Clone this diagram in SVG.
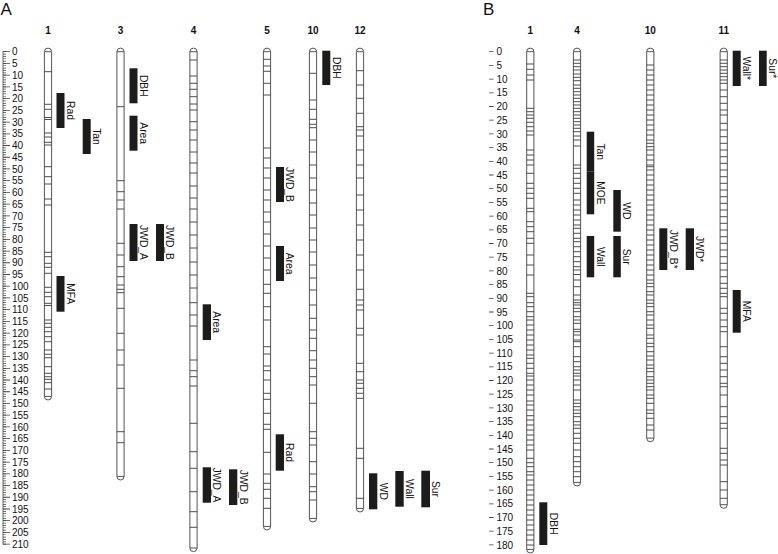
<svg xmlns="http://www.w3.org/2000/svg" width="778" height="554" viewBox="0 0 778 554">
<style>
.bg{fill:#fff}
.chr{fill:#fff;stroke:#555;stroke-width:1}
.tk{fill:none;stroke:#3a3a3a;stroke-width:0.9}
.q{fill:#1c1c1c}
.ql{font-family:"Liberation Sans",Arial,sans-serif;font-size:10.3px;fill:#111;text-anchor:middle}
.cl{font-family:"Liberation Sans",Arial,sans-serif;font-size:10px;font-weight:bold;fill:#111;text-anchor:middle}
.al{font-family:"Liberation Sans",Arial,sans-serif;font-size:10px;fill:#111}
.pl{font-family:"Liberation Sans",Arial,sans-serif;font-size:17px;fill:#111}
.ax{stroke:#444;fill:none}
</style>
<rect class="bg" x="0" y="0" width="778" height="554"/>

<!-- Panel labels -->
<text class="pl" x="0.5" y="15">A</text>
<text class="pl" x="483" y="15">B</text>

<!-- Axis A -->
<g id="axisA">
<line class="ax" x1="3" y1="51.3" x2="3" y2="544.6" stroke-width="0.8"/>
<line class="ax" x1="4.5" y1="51.35" x2="4.5" y2="545" stroke-width="3" stroke-dasharray="0.7 1.645"/>
<line class="ax" x1="6.5" y1="51.3" x2="6.5" y2="545" stroke-width="7" stroke-dasharray="0.8 10.925"/>
<g class="al">
<text x="12" y="55.3">0</text><text x="12" y="67">5</text><text x="12" y="78.8">10</text><text x="12" y="90.5">15</text><text x="12" y="102.2">20</text><text x="12" y="113.9">25</text><text x="12" y="125.7">30</text><text x="12" y="137.4">35</text><text x="12" y="149.1">40</text><text x="12" y="160.8">45</text><text x="12" y="172.6">50</text><text x="12" y="184.3">55</text><text x="12" y="196">60</text><text x="12" y="207.7">65</text><text x="12" y="219.5">70</text><text x="12" y="231.2">75</text><text x="12" y="242.9">80</text><text x="12" y="254.6">85</text><text x="12" y="266.4">90</text><text x="12" y="278.1">95</text><text x="12" y="289.8">100</text><text x="12" y="301.5">105</text><text x="12" y="313.3">110</text><text x="12" y="325">115</text><text x="12" y="336.7">120</text><text x="12" y="348.4">125</text><text x="12" y="360.2">130</text><text x="12" y="371.9">135</text><text x="12" y="383.6">140</text><text x="12" y="395.3">145</text><text x="12" y="407.1">150</text><text x="12" y="418.8">155</text><text x="12" y="430.5">160</text><text x="12" y="442.2">165</text><text x="12" y="454">170</text><text x="12" y="465.7">175</text><text x="12" y="477.4">180</text><text x="12" y="489.1">185</text><text x="12" y="500.9">190</text><text x="12" y="512.6">195</text><text x="12" y="524.3">200</text><text x="12" y="536">205</text><text x="12" y="547.8">210</text>
</g>
</g>

<!-- Axis B -->
<g id="axisB">
<line class="ax" x1="491.3" y1="51.3" x2="491.3" y2="546" stroke-width="4.5" stroke-dasharray="0.8 12.9"/>
<g class="al">
<text x="496.5" y="55.3">0</text><text x="496.5" y="69">5</text><text x="496.5" y="82.7">10</text><text x="496.5" y="96.4">15</text><text x="496.5" y="110.1">20</text><text x="496.5" y="123.8">25</text><text x="496.5" y="137.5">30</text><text x="496.5" y="151.2">35</text><text x="496.5" y="164.9">40</text><text x="496.5" y="178.6">45</text><text x="496.5" y="192.3">50</text><text x="496.5" y="206">55</text><text x="496.5" y="219.7">60</text><text x="496.5" y="233.4">65</text><text x="496.5" y="247.1">70</text><text x="496.5" y="260.8">75</text><text x="496.5" y="274.5">80</text><text x="496.5" y="288.2">85</text><text x="496.5" y="301.9">90</text><text x="496.5" y="315.6">95</text><text x="496.5" y="329.3">100</text><text x="496.5" y="343">105</text><text x="496.5" y="356.7">110</text><text x="496.5" y="370.4">115</text><text x="496.5" y="384.1">120</text><text x="496.5" y="397.8">125</text><text x="496.5" y="411.5">130</text><text x="496.5" y="425.2">135</text><text x="496.5" y="438.9">140</text><text x="496.5" y="452.6">145</text><text x="496.5" y="466.3">150</text><text x="496.5" y="480">155</text><text x="496.5" y="493.7">160</text><text x="496.5" y="507.4">165</text><text x="496.5" y="521.1">170</text><text x="496.5" y="534.8">175</text><text x="496.5" y="548.5">180</text>
</g>
</g>

<!-- Chromosome labels -->
<g id="chrLabels" class="cl">
<text x="48" y="34">1</text><text x="120.5" y="34">3</text><text x="193.5" y="34">4</text><text x="267" y="34">5</text><text x="313" y="34">10</text><text x="360" y="34">12</text>
<text x="530.3" y="34">1</text><text x="577" y="34">4</text><text x="650.3" y="34">10</text><text x="723.7" y="34">11</text>
</g>

<!-- Panel A chromosomes -->
<g id="A_chr1" transform="translate(44.4,0)">
<path class="chr" d="M0 51.7A3.6 3.6 0 0 1 7.2 51.7V396.4A3.6 3.6 0 0 1 0 396.4ZM0 51.7h7.2M0 396.4h7.2"/>
<path class="tk" d="M0 71.7h7.2M0 104.3h7.2M0 109.3h7.2M0 117.5h7.2M0 119.5h7.2M0 133h7.2M0 137h7.2M0 142.3h7.2M0 145h7.2M0 166.7h7.2M0 176.7h7.2M0 184h7.2M0 199h7.2M0 205h7.2M0 252.3h7.2M0 256.7h7.2M0 263.3h7.2M0 267.3h7.2M0 273.3h7.2M0 287.3h7.2M0 292.3h7.2M0 296.7h7.2M0 303.3h7.2M0 305.5h7.2M0 320h7.2M0 323.3h7.2M0 327.3h7.2M0 331.7h7.2M0 336.7h7.2M0 341.7h7.2M0 350h7.2M0 354.3h7.2M0 357.7h7.2M0 366.7h7.2M0 373.3h7.2M0 376.7h7.2M0 379.3h7.2M0 382.7h7.2M0 389h7.2"/>
</g>
<g id="A_chr3" transform="translate(116.9,0)">
<path class="chr" d="M0 51.7A3.6 3.6 0 0 1 7.2 51.7V476.4A3.6 3.6 0 0 1 0 476.4ZM0 51.7h7.2M0 476.4h7.2"/>
<path class="tk" d="M0 106.7h7.2M0 180.7h7.2M0 191.7h7.2M0 200h7.2M0 209h7.2M0 243.3h7.2M0 255h7.2M0 266.7h7.2M0 276.7h7.2M0 285h7.2M0 289.3h7.2M0 292.7h7.2M0 308.3h7.2M0 333.3h7.2M0 350h7.2M0 365h7.2M0 388.3h7.2M0 431.7h7.2M0 442.7h7.2"/>
</g>
<g id="A_chr4" transform="translate(189.9,0)">
<path class="chr" d="M0 51.7A3.6 3.6 0 0 1 7.2 51.7V548A3.6 3.6 0 0 1 0 548ZM0 51.7h7.2M0 548h7.2"/>
<path class="tk" d="M0 60h7.2M0 76h7.2M0 83.3h7.2M0 89.3h7.2M0 96.7h7.2M0 104h7.2M0 110h7.2M0 121.7h7.2M0 130h7.2M0 140h7.2M0 152h7.2M0 163h7.2M0 173h7.2M0 186h7.2M0 198h7.2M0 209h7.2M0 222h7.2M0 235h7.2M0 248h7.2M0 262h7.2M0 275h7.2M0 288h7.2M0 302.7h7.2M0 315h7.2M0 326h7.2M0 360h7.2M0 370.7h7.2M0 376.7h7.2M0 386h7.2M0 423.3h7.2M0 451.7h7.2M0 468.3h7.2M0 491.7h7.2M0 511.7h7.2M0 527.3h7.2"/>
</g>
<g id="A_chr5" transform="translate(263.4,0)">
<path class="chr" d="M0 51.7A3.6 3.6 0 0 1 7.2 51.7V526.4A3.6 3.6 0 0 1 0 526.4ZM0 51.7h7.2M0 526.4h7.2"/>
<path class="tk" d="M0 59.3h7.2M0 66h7.2M0 71.3h7.2M0 83.3h7.2M0 95h7.2M0 148h7.2M0 158h7.2M0 168h7.2M0 178h7.2M0 190h7.2M0 200h7.2M0 212h7.2M0 222h7.2M0 234h7.2M0 246h7.2M0 258h7.2M0 270h7.2M0 284.3h7.2M0 293.3h7.2M0 306.7h7.2M0 320h7.2M0 346.7h7.2M0 354h7.2M0 366h7.2M0 370.7h7.2M0 380h7.2M0 393.3h7.2M0 399.3h7.2M0 413.3h7.2M0 424.3h7.2M0 429.3h7.2M0 452.3h7.2M0 474h7.2M0 483.3h7.2M0 489.3h7.2M0 498.3h7.2M0 508.3h7.2"/>
</g>
<g id="A_chr10" transform="translate(309.4,0)">
<path class="chr" d="M0 51.7A3.6 3.6 0 0 1 7.2 51.7V518.4A3.6 3.6 0 0 1 0 518.4ZM0 51.7h7.2M0 518.4h7.2"/>
<path class="tk" d="M0 73.3h7.2M0 100h7.2M0 109.3h7.2M0 119.3h7.2M0 124.3h7.2M0 127.7h7.2M0 140h7.2M0 152h7.2M0 165h7.2M0 178h7.2M0 190h7.2M0 203h7.2M0 215h7.2M0 228h7.2M0 240h7.2M0 252h7.2M0 265h7.2M0 278h7.2M0 290h7.2M0 305h7.2M0 318.3h7.2M0 330h7.2M0 338.3h7.2M0 350.7h7.2M0 360h7.2M0 368.3h7.2M0 376.7h7.2M0 385h7.2M0 403.3h7.2M0 431.7h7.2M0 438.3h7.2M0 445h7.2M0 461.7h7.2M0 474h7.2M0 486.7h7.2M0 491.7h7.2M0 500h7.2"/>
</g>
<g id="A_chr12" transform="translate(356.4,0)">
<path class="chr" d="M0 51.7A3.6 3.6 0 0 1 7.2 51.7V508.4A3.6 3.6 0 0 1 0 508.4ZM0 51.7h7.2M0 508.4h7.2"/>
<path class="tk" d="M0 70.7h7.2M0 85h7.2M0 98.3h7.2M0 113.3h7.2M0 126.7h7.2M0 130h7.2M0 136h7.2M0 150h7.2M0 165h7.2M0 178h7.2M0 195h7.2M0 210h7.2M0 225h7.2M0 240h7.2M0 255h7.2M0 270h7.2M0 289.3h7.2M0 300h7.2M0 305h7.2M0 310h7.2M0 328.3h7.2M0 335h7.2M0 363.3h7.2M0 371.7h7.2M0 380h7.2M0 383.3h7.2M0 388.3h7.2M0 393.3h7.2M0 398.3h7.2M0 448.3h7.2M0 458.3h7.2M0 498.3h7.2"/>
</g>

<!-- Panel B chromosomes -->
<g id="B_chr1" transform="translate(526.7,0)">
<path class="chr" d="M0 51.7A3.6 3.6 0 0 1 7.2 51.7V549.4A3.6 3.6 0 0 1 0 549.4ZM0 51.7h7.2M0 549.4h7.2"/>
<path class="tk" d="M0 64h7.2M0 69.3h7.2M0 75h7.2M0 80h7.2M0 108.3h7.2M0 111.7h7.2M0 115h7.2M0 118.3h7.2M0 122.3h7.2M0 126.7h7.2M0 131h7.2M0 135h7.2M0 150h7.2M0 155h7.2M0 160h7.2M0 165h7.2M0 173.3h7.2M0 183.3h7.2M0 188.3h7.2M0 193.3h7.2M0 198.3h7.2M0 208.3h7.2M0 211.7h7.2M0 221.7h7.2M0 226.7h7.2M0 231.7h7.2M0 238.3h7.2M0 243.3h7.2M0 255h7.2M0 265h7.2M0 275h7.2M0 293.3h7.2M0 296.7h7.2M0 302.7h7.2M0 306.7h7.2M0 311.7h7.2M0 316.7h7.2M0 320h7.2M0 325h7.2M0 330h7.2M0 335h7.2M0 340h7.2M0 345h7.2M0 350h7.2M0 355h7.2M0 358.3h7.2M0 363.3h7.2M0 368.3h7.2M0 373.3h7.2M0 376h7.2M0 380h7.2M0 385h7.2M0 390h7.2M0 395h7.2M0 401h7.2M0 405h7.2M0 410h7.2M0 415.7h7.2M0 420h7.2M0 425h7.2M0 430h7.2M0 435h7.2M0 440h7.2M0 445h7.2M0 450h7.2M0 458.3h7.2M0 462.7h7.2M0 466.7h7.2M0 471.7h7.2M0 475h7.2M0 480h7.2M0 485h7.2M0 490h7.2M0 495h7.2M0 500h7.2M0 505h7.2M0 510h7.2M0 515h7.2M0 520h7.2M0 525h7.2M0 530h7.2M0 535h7.2M0 540h7.2M0 545h7.2"/>
</g>
<g id="B_chr4" transform="translate(573.4,0)">
<path class="chr" d="M0 51.7A3.6 3.6 0 0 1 7.2 51.7V482.4A3.6 3.6 0 0 1 0 482.4ZM0 51.7h7.2M0 482.4h7.2"/>
<path class="tk" d="M0 60h7.2M0 63.3h7.2M0 66.7h7.2M0 70h7.2M0 74h7.2M0 77.3h7.2M0 80.7h7.2M0 85h7.2M0 88.3h7.2M0 91.7h7.2M0 95h7.2M0 98.3h7.2M0 101.7h7.2M0 105h7.2M0 108.3h7.2M0 111.7h7.2M0 115h7.2M0 118.3h7.2M0 121.7h7.2M0 125h7.2M0 128.3h7.2M0 131.7h7.2M0 136h7.2M0 140h7.2M0 146h7.2M0 165h7.2M0 168.3h7.2M0 173.3h7.2M0 178.3h7.2M0 183.3h7.2M0 188.3h7.2M0 193.3h7.2M0 200h7.2M0 205h7.2M0 210h7.2M0 215h7.2M0 220h7.2M0 225h7.2M0 228.3h7.2M0 233.3h7.2M0 238.3h7.2M0 241.7h7.2M0 246.7h7.2M0 251.7h7.2M0 256.7h7.2M0 261.7h7.2M0 266.7h7.2M0 270h7.2M0 274.5h7.2M0 280h7.2M0 286.7h7.2M0 295h7.2M0 300h7.2M0 302.7h7.2M0 305h7.2M0 308.3h7.2M0 311.7h7.2M0 316.7h7.2M0 320h7.2M0 323.3h7.2M0 329.3h7.2M0 331.7h7.2M0 335h7.2M0 340h7.2M0 341.7h7.2M0 346.7h7.2M0 356.7h7.2M0 361.7h7.2M0 366.7h7.2M0 370h7.2M0 373.3h7.2M0 376h7.2M0 380h7.2M0 385h7.2M0 390h7.2M0 400h7.2M0 403.3h7.2M0 406.7h7.2M0 410h7.2M0 413.3h7.2M0 416.7h7.2M0 421.7h7.2M0 425h7.2M0 428.3h7.2M0 433.3h7.2M0 438.3h7.2M0 443.3h7.2M0 450h7.2M0 456.7h7.2M0 461.7h7.2M0 466.7h7.2M0 471.7h7.2M0 476.7h7.2"/>
</g>
<g id="B_chr10" transform="translate(646.7,0)">
<path class="chr" d="M0 51.7A3.6 3.6 0 0 1 7.2 51.7V438.1A3.6 3.6 0 0 1 0 438.1ZM0 51.7h7.2M0 438.1h7.2"/>
<path class="tk" d="M0 65h7.2M0 70h7.2M0 75h7.2M0 80h7.2M0 85h7.2M0 90h7.2M0 95h7.2M0 100h7.2M0 105h7.2M0 110h7.2M0 115h7.2M0 120h7.2M0 125h7.2M0 130h7.2M0 135h7.2M0 140h7.2M0 143.3h7.2M0 146.7h7.2M0 150h7.2M0 155h7.2M0 160h7.2M0 165h7.2M0 166.7h7.2M0 170h7.2M0 175h7.2M0 180h7.2M0 185h7.2M0 190h7.2M0 195h7.2M0 200h7.2M0 205h7.2M0 210h7.2M0 215h7.2M0 220h7.2M0 225h7.2M0 230h7.2M0 235h7.2M0 240h7.2M0 245h7.2M0 250h7.2M0 255h7.2M0 260h7.2M0 265h7.2M0 270h7.2M0 275h7.2M0 280h7.2M0 283.3h7.2M0 286.7h7.2M0 291.7h7.2M0 295h7.2M0 300h7.2M0 303.3h7.2M0 306.7h7.2M0 311.7h7.2M0 315h7.2M0 320h7.2M0 325h7.2M0 328.3h7.2M0 335h7.2M0 338.3h7.2M0 343.3h7.2M0 346.7h7.2M0 351.7h7.2M0 356h7.2M0 360h7.2M0 365h7.2M0 368.3h7.2M0 371.7h7.2M0 376.7h7.2M0 380h7.2M0 383.3h7.2M0 386.7h7.2M0 390h7.2M0 395h7.2M0 398.3h7.2M0 403.3h7.2M0 410h7.2M0 413.3h7.2M0 418.3h7.2M0 425h7.2M0 430h7.2"/>
</g>
<g id="B_chr11" transform="translate(720.1,0)">
<path class="chr" d="M0 51.7A3.6 3.6 0 0 1 7.2 51.7V504.7A3.6 3.6 0 0 1 0 504.7ZM0 51.7h7.2M0 504.7h7.2"/>
<path class="tk" d="M0 60h7.2M0 63.3h7.2M0 66.7h7.2M0 70h7.2M0 73.3h7.2M0 76.7h7.2M0 80h7.2M0 83.3h7.2M0 90h7.2M0 96.7h7.2M0 103.3h7.2M0 110h7.2M0 115h7.2M0 123.3h7.2M0 130h7.2M0 136.7h7.2M0 143.3h7.2M0 150h7.2M0 156.7h7.2M0 163.3h7.2M0 170h7.2M0 176.7h7.2M0 183.3h7.2M0 190h7.2M0 196.7h7.2M0 203.3h7.2M0 210h7.2M0 216.7h7.2M0 223.3h7.2M0 230h7.2M0 236.7h7.2M0 243.3h7.2M0 250h7.2M0 256.7h7.2M0 263.3h7.2M0 270h7.2M0 276.7h7.2M0 283.3h7.2M0 288.3h7.2M0 293.3h7.2M0 296.7h7.2M0 308.3h7.2M0 313.3h7.2M0 320h7.2M0 326.7h7.2M0 331.7h7.2M0 346.7h7.2M0 356.7h7.2M0 363.3h7.2M0 370h7.2M0 376.7h7.2M0 383.3h7.2M0 386.7h7.2M0 395h7.2M0 406.7h7.2M0 416.7h7.2M0 423.3h7.2M0 428.3h7.2M0 448.3h7.2M0 453.3h7.2M0 460h7.2M0 465h7.2M0 481.7h7.2M0 490h7.2M0 498.3h7.2"/>
</g>

<!-- QTL bars panel A -->
<g id="qA_chr1_Rad"><rect class="q" x="56.5" y="93" width="8" height="35"/><text class="ql" transform="translate(66.8,110.5) rotate(90)">Rad</text></g>
<g id="qA_chr1_Tan"><rect class="q" x="82.7" y="119" width="8" height="35"/><text class="ql" transform="translate(93,136.5) rotate(90)">Tan</text></g>
<g id="qA_chr1_MFA"><rect class="q" x="56.5" y="276" width="8" height="35.7"/><text class="ql" transform="translate(66.8,293.8) rotate(90)">MFA</text></g>
<g id="qA_chr3_DBH"><rect class="q" x="129.5" y="68.3" width="8" height="35"/><text class="ql" transform="translate(139.8,85.8) rotate(90)">DBH</text></g>
<g id="qA_chr3_Area"><rect class="q" x="129.5" y="115.7" width="8" height="35"/><text class="ql" transform="translate(139.8,133.2) rotate(90)">Area</text></g>
<g id="qA_chr3_JWD_A"><rect class="q" x="129.5" y="224" width="8" height="37"/><text class="ql" transform="translate(139.8,242.5) rotate(90)">JWD_A</text></g>
<g id="qA_chr3_JWD_B"><rect class="q" x="156" y="224" width="8" height="37"/><text class="ql" transform="translate(166.3,242.5) rotate(90)">JWD_B</text></g>
<g id="qA_chr4_Area"><rect class="q" x="202.7" y="304.3" width="8.3" height="35.7"/><text class="ql" transform="translate(213.3,322.2) rotate(90)">Area</text></g>
<g id="qA_chr4_JWD_A"><rect class="q" x="202.7" y="467.3" width="8.3" height="35.4"/><text class="ql" transform="translate(213.3,485) rotate(90)">JWD_A</text></g>
<g id="qA_chr4_JWD_B"><rect class="q" x="229" y="469.3" width="8.3" height="35.7"/><text class="ql" transform="translate(239.6,487.2) rotate(90)">JWD_B</text></g>
<g id="qA_chr5_JWD_B"><rect class="q" x="276" y="167" width="8" height="35"/><text class="ql" transform="translate(286.3,184.5) rotate(90)">JWD_B</text></g>
<g id="qA_chr5_Area"><rect class="q" x="276" y="246" width="8" height="35"/><text class="ql" transform="translate(286.3,263.5) rotate(90)">Area</text></g>
<g id="qA_chr5_Rad"><rect class="q" x="275.7" y="434.3" width="8.3" height="36.4"/><text class="ql" transform="translate(286.3,452.5) rotate(90)">Rad</text></g>
<g id="qA_chr10_DBH"><rect class="q" x="322.3" y="50.7" width="8" height="34.3"/><text class="ql" transform="translate(332.6,67.9) rotate(90)">DBH</text></g>
<g id="qA_chr12_WD"><rect class="q" x="369" y="473.3" width="8.3" height="36"/><text class="ql" transform="translate(379.6,491.3) rotate(90)">WD</text></g>
<g id="qA_chr12_Wall"><rect class="q" x="395.3" y="471" width="8.4" height="35.7"/><text class="ql" transform="translate(406,488.9) rotate(90)">Wall</text></g>
<g id="qA_chr12_Sur"><rect class="q" x="421.3" y="470.7" width="8.7" height="36.6"/><text class="ql" transform="translate(432.3,489) rotate(90)">Sur</text></g>

<!-- QTL bars panel B -->
<g id="qB_chr1_DBH"><rect class="q" x="539.3" y="502.3" width="8" height="42.7"/><text class="ql" transform="translate(549.6,523.7) rotate(90)">DBH</text></g>
<g id="qB_chr4_Tan"><rect class="q" x="586.7" y="131.7" width="7.5" height="40"/><text class="ql" transform="translate(596.5,151.7) rotate(90)">Tan</text></g>
<g id="qB_chr4_MOE"><rect class="q" x="586.7" y="171.7" width="7.5" height="42.6"/><text class="ql" transform="translate(596.5,193) rotate(90)">MOE</text></g>
<g id="qB_chr4_Wall"><rect class="q" x="586.7" y="236" width="7.5" height="41.3"/><text class="ql" transform="translate(596.5,256.7) rotate(90)">Wall</text></g>
<g id="qB_chr4_WD"><rect class="q" x="613.3" y="190" width="7.5" height="41.7"/><text class="ql" transform="translate(623.1,210.8) rotate(90)">WD</text></g>
<g id="qB_chr4_Sur"><rect class="q" x="613.3" y="236" width="7.5" height="41.3"/><text class="ql" transform="translate(623.1,256.7) rotate(90)">Sur</text></g>
<g id="qB_chr10_JWD_B"><rect class="q" x="659.3" y="228.3" width="8" height="41.7"/><text class="ql" transform="translate(669.6,249.2) rotate(90)">JWD_B*</text></g>
<g id="qB_chr10_JWD"><rect class="q" x="685.7" y="228.3" width="8.3" height="41.7"/><text class="ql" transform="translate(696.3,249.2) rotate(90)">JWD*</text></g>
<g id="qB_chr11_Wall"><rect class="q" x="732.7" y="50.7" width="8" height="35.3"/><text class="ql" transform="translate(743,68.3) rotate(90)">Wall*</text></g>
<g id="qB_chr11_Sur"><rect class="q" x="759" y="50.7" width="7.7" height="35.3"/><text class="ql" transform="translate(769,68.3) rotate(90)">Sur*</text></g>
<g id="qB_chr11_MFA"><rect class="q" x="732.7" y="290" width="8" height="42.7"/><text class="ql" transform="translate(743,311.3) rotate(90)">MFA</text></g>
</svg>
